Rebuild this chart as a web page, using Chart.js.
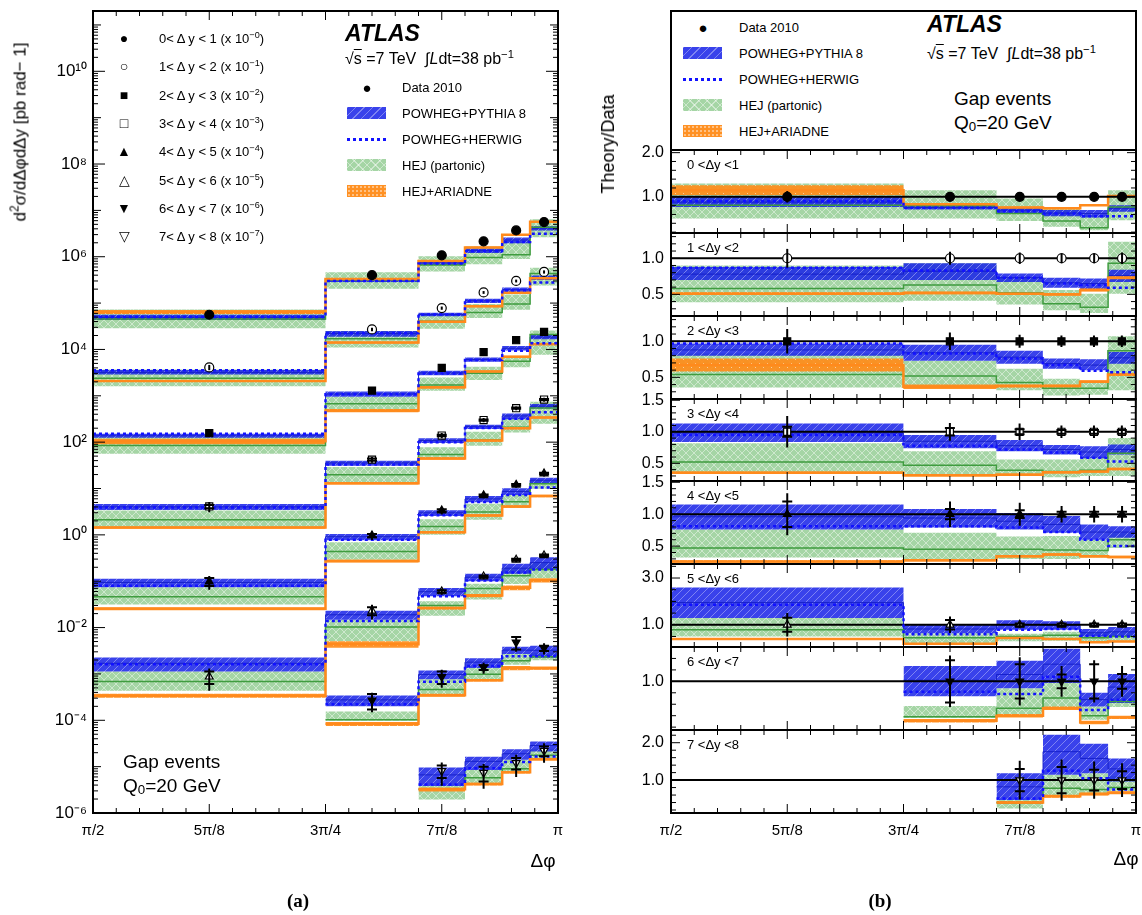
<!DOCTYPE html>
<html>
<head>
<meta charset="utf-8">
<script src="https://cdn.jsdelivr.net/npm/chart.js@4.4.0/dist/chart.umd.min.js"></script>
<style>
body { margin:0; background:#fff; width:1142px; height:915px; position:relative; overflow:hidden;
       font-family:"Liberation Sans", Arial, sans-serif; }
canvas { position:absolute; }
.t { position:absolute; white-space:nowrap; color:#000; line-height:1; transform:translateY(-50%); }
.sw { position:absolute; width:39px; height:12px; transform:translateY(-50%); }
sup { font-size:70%; vertical-align:0.55em; line-height:0; }
sub { font-size:70%; vertical-align:-0.2em; line-height:0; }
</style>
</head>
<body>
<canvas id="left" width="570" height="915" style="left:0;top:0"></canvas>
<div id="legbox" style="position:absolute;left:670px;top:10px;width:467px;height:141px;border:2px solid #000;box-sizing:border-box"></div>
<script>
// ---- data ----
// delta-phi bin edges, in units of pi
const edges = [0.5, 0.75, 0.85, 0.9, 0.94, 0.97, 1.0];
const xTicks = [0.5, 0.625, 0.75, 0.875, 1.0];
const xTickLabels = ['π/2', '5π/8', '3π/4', '7π/8', 'π'];

const sliceLabels = ['0 &lt;Δy &lt;1', '1 &lt;Δy &lt;2', '2 &lt;Δy &lt;3', '3 &lt;Δy &lt;4',
                     '4 &lt;Δy &lt;5', '5 &lt;Δy &lt;6', '6 &lt;Δy &lt;7', '7 &lt;Δy &lt;8'];
const sliceExp = [0, 1, 2, 3, 4, 5, 6, 7];   // plotted as x 10^-k

// cross sections d2sigma/dDphi dDy [pb/rad], unscaled
const xsec = [
  [5.6e4, 4.0e5, 1.07e6, 2.15e6, 3.7e6, 5.6e6],
  [4.1e4, 2.7e5, 7.8e5, 1.7e6, 3.0e6, 4.7e6],
  [1.56e4, 1.3e5, 4.0e5, 8.8e5, 1.58e6, 2.4e6],
  [4.1e3, 4.2e4, 1.39e5, 3.0e5, 5.4e5, 8.3e5],
  [980, 9.7e3, 3.35e4, 7.1e4, 1.2e5, 2.1e5],
  [87, 2.3e3, 6.0e3, 1.26e4, 2.9e4, 3.6e4],
  [null, 270, 870, 1380, 4800, 3600],
  [null, null, 81, 74, 120, 220]
];
// relative data uncertainties: total and statistical
const errTot = [
  [0.13, 0.05, 0.04, 0.04, 0.04, 0.04],
  [0.13, 0.09, 0.08, 0.07, 0.07, 0.08],
  [0.17, 0.12, 0.09, 0.08, 0.08, 0.08],
  [0.25, 0.14, 0.13, 0.10, 0.10, 0.10],
  [0.33, 0.20, 0.18, 0.13, 0.13, 0.13],
  [0.50, 0.35, 0.15, 0.12, 0.12, 0.12],
  [null, 0.45, 0.42, 0.27, 0.37, 0.27],
  [null, null, 0.52, 0.55, 0.50, 0.45]
];
const errStat = [
  [0, 0, 0, 0, 0, 0],
  [0, 0, 0, 0, 0, 0],
  [0, 0, 0, 0, 0, 0],
  [0.08, 0.06, 0.04, 0.03, 0.03, 0.03],
  [0.20, 0.08, 0.06, 0.04, 0.04, 0.04],
  [0.30, 0.20, 0.06, 0.05, 0.05, 0.05],
  [null, 0.37, 0.30, 0.12, 0.30, 0.13],
  [null, null, 0.30, 0.35, 0.28, 0.24]
];

// theory / data
const pyLo = [
  [0.77, 0.71, 0.62, 0.56, 0.53, 0.66],
  [0.70, 0.70, 0.67, 0.59, 0.57, 0.67],
  [0.80, 0.73, 0.69, 0.62, 0.60, 0.69],
  [0.84, 0.74, 0.69, 0.64, 0.58, 0.64],
  [0.76, 0.79, 0.76, 0.71, 0.60, 0.63],
  [1.29, 0.64, 0.79, 0.79, 0.50, 0.50],
  [null, 0.74, 0.88, 0.97, 0.56, 0.62],
  [null, null, 0.47, 1.14, 1.18, 0.96]
];
const pyHi = [
  [1.00, 0.81, 0.77, 0.70, 0.70, 0.81],
  [0.88, 0.93, 0.79, 0.73, 0.72, 0.84],
  [0.97, 0.95, 0.87, 0.76, 0.75, 0.85],
  [1.13, 0.95, 0.87, 0.79, 0.77, 0.80],
  [1.15, 1.08, 1.02, 0.97, 0.84, 0.81],
  [2.60, 1.00, 1.19, 1.15, 0.82, 0.91],
  [null, 1.27, 1.36, 1.57, 0.80, 1.13],
  [null, null, 1.18, 2.21, 1.97, 1.58]
];
const pyC = [
  [0.88, 0.76, 0.70, 0.63, 0.62, 0.74],
  [0.78, 0.82, 0.73, 0.66, 0.65, 0.76],
  [0.88, 0.84, 0.78, 0.69, 0.67, 0.77],
  [0.98, 0.85, 0.78, 0.72, 0.68, 0.72],
  [0.96, 0.94, 0.89, 0.84, 0.72, 0.72],
  [1.95, 0.82, 0.99, 0.97, 0.66, 0.70],
  [null, 1.02, 1.12, 1.30, 0.68, 0.90],
  [null, null, 0.82, 1.76, 1.58, 1.30]
];
const herwig = [
  [0.90, 0.75, 0.67, 0.62, 0.56, 0.56],
  [0.87, 0.83, 0.73, 0.65, 0.63, 0.59],
  [0.97, 0.83, 0.76, 0.67, 0.59, 0.57],
  [0.95, 0.78, 0.72, 0.67, 0.59, 0.53],
  [0.81, 0.81, 0.79, 0.72, 0.60, 0.50],
  [1.86, 0.60, 0.79, 0.82, 0.53, 0.50],
  [null, 0.82, 0.78, 1.08, 0.50, 0.68],
  [null, null, 0.51, 1.25, 1.05, 0.75]
];
const hejLo = [
  [0.51, 0.51, 0.45, 0.32, 0.24, 0.47],
  [0.39, 0.41, 0.36, 0.28, 0.24, 0.51],
  [0.36, 0.35, 0.32, 0.25, 0.26, 0.32],
  [0.35, 0.32, 0.32, 0.28, 0.30, 0.30],
  [0.32, 0.30, 0.30, 0.30, 0.32, 0.47],
  [0.50, 0.22, 0.30, 0.32, 0.30, 0.32],
  [null, 0.36, 0.40, 0.53, 0.33, 0.55],
  [null, null, 0.24, 0.56, 0.64, 0.70]
];
const hejC = [
  [0.81, 0.80, 0.62, 0.45, 0.30, 0.77],
  [0.58, 0.63, 0.52, 0.37, 0.32, 0.93],
  [0.54, 0.52, 0.43, 0.35, 0.35, 0.87],
  [0.52, 0.47, 0.39, 0.37, 0.39, 0.66],
  [0.47, 0.45, 0.45, 0.44, 0.43, 0.60],
  [0.79, 0.45, 0.50, 0.55, 0.45, 0.50],
  [null, 0.38, 0.53, 0.71, 0.40, 0.65],
  [null, null, 0.40, 0.78, 0.75, 0.80]
];
const hejHi = [
  [1.30, 1.15, 0.96, 0.77, 0.58, 1.15],
  [0.90, 0.93, 0.74, 0.56, 0.51, 1.23],
  [0.83, 0.73, 0.62, 0.48, 0.45, 1.07],
  [0.82, 0.69, 0.56, 0.56, 0.60, 0.90],
  [0.76, 0.71, 0.65, 0.66, 0.60, 0.71],
  [1.29, 0.64, 0.62, 0.70, 0.66, 0.70],
  [null, 0.57, 0.88, 0.97, 0.56, 0.80],
  [null, null, 0.47, 1.14, 1.18, 1.10]
];
const ariadne = [
  [1.15, 0.83, 0.76, 0.74, 0.81, 1.02],
  [0.51, 0.52, 0.51, 0.50, 0.56, 0.73],
  [0.67, 0.37, 0.38, 0.38, 0.44, 0.54],
  [0.35, 0.31, 0.32, 0.36, 0.37, 0.41],
  [0.26, 0.28, 0.34, 0.37, 0.34, 0.33],
  [0.39, 0.19, 0.44, 0.39, 0.25, 0.29],
  [null, 0.31, 0.40, 0.53, 0.28, 0.37],
  [null, null, 0.40, 0.57, 0.63, 0.66]
];
const ariadneErr = [
  [0.11, 0.02, 0.02, 0.02, 0.02, 0.02],
  [0.02, 0.02, 0.02, 0.02, 0.02, 0.02],
  [0.09, 0.03, 0.02, 0.02, 0.02, 0.02],
  [0.02, 0.02, 0.02, 0.02, 0.02, 0.02],
  [0.02, 0.02, 0.02, 0.02, 0.02, 0.02],
  [0.04, 0.03, 0.03, 0.03, 0.03, 0.03],
  [null, 0.03, 0.03, 0.03, 0.03, 0.03],
  [null, null, 0.04, 0.04, 0.04, 0.04]
];

// ratio panel axes
const ratioRange = [[0.18, 2.06], [0.2, 1.35], [0.2, 1.35], [0.22, 1.52], [0.22, 1.52], [0.05, 3.6], [0.15, 1.6], [0.12, 2.34]];
const ratioTicks = [[1.0, 2.0], [0.5, 1.0], [0.5, 1.0], [0.5, 1.0, 1.5], [0.5, 1.0, 1.5], [1.0, 3.0], [1.0], [1.0, 2.0]];
const ratioMinor = [0.2, 0.1, 0.1, 0.1, 0.1, 0.5, 0.2, 0.2];

// ---- styling ----
const PI = Math.PI;
const FONT = '"Liberation Sans", Arial, sans-serif';
Chart.defaults.font.family = FONT;
Chart.defaults.color = '#000';

const markerStyle = [['circle', 0, true], ['circle', 0, false], ['rect', 0, true], ['rect', 0, false],
                     ['triangle', 0, true], ['triangle', 0, false], ['triangle', 180, true], ['triangle', 180, false]];
const markerGlyph = ['●', '○', '■', '□', '▲', '△', '▼', '▽'];

function makePattern(kind) {
  const n = 8, c = document.createElement('canvas');
  c.width = c.height = n;
  const g = c.getContext('2d');
  if (kind == 'blue') {
    g.fillStyle = 'rgba(25,35,232,0.86)';
    g.fillRect(0, 0, n, n);
    g.strokeStyle = 'rgba(255,255,255,0.35)';
    g.beginPath();
    g.moveTo(0, n); g.lineTo(n, 0);
    g.moveTo(-2, 2); g.lineTo(2, -2);
    g.moveTo(n - 2, n + 2); g.lineTo(n + 2, n - 2);
    g.stroke();
  } else if (kind == 'green') {
    g.fillStyle = 'rgba(105,185,105,0.6)';
    g.fillRect(0, 0, n, n);
    g.strokeStyle = 'rgba(255,255,255,0.45)';
    g.beginPath();
    g.moveTo(0, n); g.lineTo(n, 0);
    g.moveTo(0, 0); g.lineTo(n, n);
    g.stroke();
  } else {
    g.fillStyle = 'rgba(255,140,25,0.92)';
    g.fillRect(0, 0, n, n);
    g.fillStyle = 'rgba(255,255,255,0.55)';
    g.fillRect(1, 1, 1, 1);
    g.fillRect(5, 5, 1, 1);
  }
  return g.createPattern(c, 'repeat');
}
const blueFill = makePattern('blue');
const greenFill = makePattern('green');
const orangeFill = makePattern('orange');

function binCenter(i) { return (edges[i] + edges[i + 1]) / 2 * PI; }

// histogram points for a stepped line (horizontal first)
function steps(vals) {
  const pts = [];
  let last = -1;
  vals.forEach((v, i) => {
    if (v == null) return;
    pts.push({ x: edges[i] * PI, y: v });
    last = i;
  });
  pts.push({ x: edges[last + 1] * PI, y: vals[last] });
  return pts;
}

// theory datasets for one slice; f turns a ratio into the plotted value
function theorySets(list, k, f) {
  const m = (arr) => arr[k].map((r, i) => r == null ? null : f(r, i));
  const line = (vals, color, width, order, dash) => list.push({
    data: steps(vals), stepped: 'before', borderColor: color, borderWidth: width,
    borderDash: dash || [], pointRadius: 0, fill: false, order: order
  });
  const band = (lo, hi, fillStyle, order) => {
    list.push({ data: steps(lo), stepped: 'before', borderWidth: 0, pointRadius: 0, fill: false, order: order });
    list.push({ data: steps(hi), stepped: 'before', borderWidth: 0, pointRadius: 0, fill: '-1',
                backgroundColor: fillStyle, order: order });
  };
  band(m(hejLo), m(hejHi), greenFill, 60);
  band(m(pyLo), m(pyHi), blueFill, 50);
  const aLo = ariadne[k].map((r, i) => r == null ? null : f(r - ariadneErr[k][i], i));
  const aHi = ariadne[k].map((r, i) => r == null ? null : f(r + ariadneErr[k][i], i));
  band(aLo, aHi, orangeFill, 40);
  line(m(pyC), 'rgba(20,30,200,0.9)', 1, 35);
  line(m(hejC), '#3f9c3f', 1.5, 30);
  line(m(ariadne), '#ff8a1c', 2.5, 25);
  line(m(herwig), '#1212ff', 2.5, 20, [3, 3]);
}

function dataSet(k, f) {
  const pts = [], errs = [];
  xsec[k].forEach((v, i) => {
    if (v == null) return;
    const t = errTot[k][i], s = errStat[k][i];
    pts.push({ x: binCenter(i), y: f(1, i) });
    errs.push([f(1 - t, i), f(1 + t, i), s ? f(1 - s, i) : null, s ? f(1 + s, i) : null]);
  });
  const st = markerStyle[k];
  return {
    data: pts, errs: errs, showLine: false, pointStyle: st[0], rotation: st[1],
    pointRadius: st[0] == 'rect' ? 5 : 4.5, pointBackgroundColor: st[2] ? '#000' : '#fff',
    pointBorderColor: '#000', pointBorderWidth: 1.2, order: 5
  };
}

const errPlugin = {
  id: 'errbars',
  afterDatasetsDraw(chart) {
    const { ctx, chartArea: a } = chart;
    const xs = chart.scales.x, ys = chart.scales.y;
    ctx.save();
    ctx.beginPath();
    ctx.rect(a.left, a.top, a.right - a.left, a.bottom - a.top);
    ctx.clip();
    ctx.strokeStyle = '#000';
    ctx.lineWidth = 2;
    chart.data.datasets.forEach(ds => {
      if (!ds.errs) return;
      ds.data.forEach((p, j) => {
        const e = ds.errs[j], x = xs.getPixelForValue(p.x);
        ctx.beginPath();
        ctx.moveTo(x, ys.getPixelForValue(e[0]));
        ctx.lineTo(x, ys.getPixelForValue(e[1]));
        [e[2], e[3]].forEach(c => {
          if (c == null) return;
          const y = ys.getPixelForValue(c);
          ctx.moveTo(x - 5, y);
          ctx.lineTo(x + 5, y);
        });
        ctx.stroke();
      });
    });
    ctx.restore();
  }
};

// frame with inward ticks
const framePlugin = {
  id: 'frame',
  afterDraw(chart, args, opt) {
    const { ctx, chartArea: a } = chart;
    const xs = chart.scales.x, ys = chart.scales.y;
    ctx.save();
    ctx.strokeStyle = '#000';
    ctx.lineWidth = 1;
    ctx.beginPath();
    for (let j = 0; j <= 20; j++) {
      const px = xs.getPixelForValue((0.5 + j / 40) * PI);
      const len = j % 5 == 0 ? 9 : 5;
      ctx.moveTo(px, a.bottom); ctx.lineTo(px, a.bottom - len);
      ctx.moveTo(px, a.top); ctx.lineTo(px, a.top + len);
    }
    opt.yt.forEach(([v, len]) => {
      const py = ys.getPixelForValue(v);
      if (py < a.top - 0.5 || py > a.bottom + 0.5) return;
      ctx.moveTo(a.left, py); ctx.lineTo(a.left + len, py);
      ctx.moveTo(a.right, py); ctx.lineTo(a.right - len, py);
    });
    ctx.stroke();
    ctx.lineWidth = 2;
    ctx.strokeRect(a.left, a.top, a.right - a.left, a.bottom - a.top);
    ctx.restore();
  }
};

const supMap = { '-': '⁻', '0': '⁰', '1': '¹', '2': '²', '3': '³', '4': '⁴', '5': '⁵', '6': '⁶', '7': '⁷', '8': '⁸', '9': '⁹' };
function supText(n) { return String(n).split('').map(c => supMap[c]).join(''); }

function xScale(show) {
  return {
    type: 'linear', min: 0.5 * PI, max: PI, display: show,
    grid: { display: false, drawTicks: false }, border: { display: false },
    afterBuildTicks: s => { s.ticks = xTicks.map(v => ({ value: v * PI })); },
    ticks: { callback: (v, i) => xTickLabels[i], font: { size: 15 }, padding: 9, maxRotation: 0, autoSkip: false },
    afterFit: s => { s.height = show ? 102 : 0; s.paddingLeft = 0; s.paddingRight = 0; }
  };
}

// ---- left panel: cross sections ----
const leftSets = [];
for (let k = 0; k < 8; k++) {
  const f = (r, i) => r * xsec[k][i] * Math.pow(10, -sliceExp[k]);
  theorySets(leftSets, k, f);
  leftSets.push(dataSet(k, f));
}
const logTicks = [], logLabels = [];
for (let e = -6; e <= 11; e++) {
  logTicks.push([Math.pow(10, e), e % 2 == 0 ? 12 : 8]);
  if (e % 2 == 0 && e <= 10) logLabels.push(Math.pow(10, e));
  for (let m = 2; m <= 9; m++) logTicks.push([m * Math.pow(10, e), 5]);
}

new Chart(document.getElementById('left'), {
  type: 'line',
  data: { datasets: leftSets },
  options: {
    responsive: false, animation: false, events: [],
    layout: { padding: { top: 11, right: 12, left: 0, bottom: 0 } },
    plugins: { legend: { display: false }, tooltip: { enabled: false }, frame: { yt: logTicks } },
    scales: {
      x: xScale(true),
      y: {
        type: 'logarithmic', min: 1e-6, max: 2e11,
        grid: { display: false, drawTicks: false }, border: { display: false },
        afterBuildTicks: s => { s.ticks = logLabels.map(v => ({ value: v })); },
        ticks: { callback: v => '10' + supText(Math.round(Math.log10(v))), font: { size: 17 }, padding: 6 },
        afterFit: s => { s.width = 93; s.paddingTop = 0; s.paddingBottom = 0; }
      }
    }
  },
  plugins: [errPlugin, framePlugin]
});

// ---- right panel: theory / data ----
const rTop = [150, 233, 316, 399, 481, 564, 647, 730, 813];
for (let k = 0; k < 8; k++) {
  const last = k == 7;
  const cv = document.createElement('canvas');
  const h = rTop[k + 1] - rTop[k] + 10 + (last ? 102 : 10);
  cv.width = 552; cv.height = h;
  cv.style.left = '590px'; cv.style.top = (rTop[k] - 10) + 'px';
  document.body.appendChild(cv);

  const sets = [];
  theorySets(sets, k, r => r);
  sets.push({ data: [{ x: 0.5 * PI, y: 1 }, { x: PI, y: 1 }], borderColor: '#000', borderWidth: 2,
              pointRadius: 0, fill: false, order: 22 });
  sets.push(dataSet(k, r => r));

  const [lo, hi] = ratioRange[k];
  const yt = [];
  for (let v = Math.ceil(lo / ratioMinor[k] - 1e-6) * ratioMinor[k]; v <= hi + 1e-6; v += ratioMinor[k]) {
    const major = ratioTicks[k].some(t => Math.abs(t - v) < 1e-6);
    yt.push([v, major ? 9 : 5]);
  }

  new Chart(cv, {
    type: 'line',
    data: { datasets: sets },
    options: {
      responsive: false, animation: false, events: [],
      layout: { padding: { top: 10, right: 6, left: 0, bottom: last ? 0 : 10 } },
      plugins: { legend: { display: false }, tooltip: { enabled: false }, frame: { yt: yt } },
      scales: {
        x: xScale(last),
        y: {
          type: 'linear', min: lo, max: hi,
          grid: { display: false, drawTicks: false }, border: { display: false },
          afterBuildTicks: s => { s.ticks = ratioTicks[k].map(v => ({ value: v })); },
          ticks: { callback: v => v.toFixed(1), font: { size: 16 }, padding: 7 },
          afterFit: s => { s.width = 81; s.paddingTop = 0; s.paddingBottom = 0; }
        }
      }
    },
    plugins: [errPlugin, framePlugin]
  });
}

// ---- text, legends ----
function txt(html, left, cy, css) {
  const d = document.createElement('div');
  d.className = 't';
  d.innerHTML = html;
  d.style.left = left + 'px';
  d.style.top = cy + 'px';
  if (css) d.style.cssText += css;
  document.body.appendChild(d);
  return d;
}
function swatch(left, cy, bg) {
  const d = document.createElement('div');
  d.className = 'sw';
  d.style.left = left + 'px';
  d.style.top = cy + 'px';
  d.style.background = bg;
  document.body.appendChild(d);
}
const cssBlue = 'repeating-linear-gradient(135deg, rgba(255,255,255,0.35) 0 1px, transparent 1px 6px), rgba(25,35,232,0.86)';
const cssGreen = 'repeating-linear-gradient(135deg, rgba(255,255,255,0.45) 0 1px, transparent 1px 6px), repeating-linear-gradient(45deg, rgba(255,255,255,0.45) 0 1px, transparent 1px 6px), rgb(165,213,165)';
const cssOrange = 'radial-gradient(rgba(255,255,255,0.6) 0.6px, transparent 1px) 0 0/4px 4px, rgb(255,145,35)';
const modelNames = ['POWHEG+PYTHIA 8', 'POWHEG+HERWIG', 'HEJ (partonic)', 'HEJ+ARIADNE'];

function legend(mx, sx, tx, y0, dy) {
  txt('●', mx, y0, 'font-size:15px;transform:translate(-50%,-50%)');
  txt('Data 2010', tx, y0, 'font-size:13px');
  swatch(sx, y0 + dy, cssBlue);
  txt(modelNames[0], tx, y0 + dy, 'font-size:13px');
  const d = document.createElement('div');
  d.style.cssText = 'position:absolute;width:39px;height:0;border-top:3px dotted #1212ff;left:' + sx + 'px;top:' + (y0 + 2 * dy - 1) + 'px';
  document.body.appendChild(d);
  txt(modelNames[1], tx, y0 + 2 * dy, 'font-size:13px');
  swatch(sx, y0 + 3 * dy, cssGreen);
  txt(modelNames[2], tx, y0 + 3 * dy, 'font-size:13px');
  swatch(sx, y0 + 4 * dy, cssOrange);
  txt(modelNames[3], tx, y0 + 4 * dy, 'font-size:13px');
}

const energy = '√<span style="text-decoration:overline">s</span> =7 TeV &nbsp;∫<i>L</i>dt=38 pb<sup>−1</sup>';

// left panel
for (let k = 0; k < 8; k++) {
  const cy = 38 + k * 28.3;
  txt(markerGlyph[k], 124, cy, 'font-size:14px;transform:translate(-50%,-50%)');
  const lab = sliceLabels[k].replace(/ &lt;Δy &lt;/, '&lt; Δ y &lt; ').replace(/^(\d) /, '$1');
  txt(lab + ' (x 10<sup>−' + sliceExp[k] + '</sup>)', 159, cy, 'font-size:13px');
}
txt('ATLAS', 345, 33, 'font-size:23px;font-weight:bold;font-style:italic');
txt(energy, 345, 59, 'font-size:16px');
legend(367, 347, 402, 87, 26);
txt('Gap events', 123, 761, 'font-size:19px');
txt('Q<sub>0</sub>=20 GeV', 123, 785, 'font-size:19px');
txt('d<sup>2</sup>σ/dΔφdΔy [pb rad− 1]', 20, 132, 'font-size:17px;transform:translate(-50%,-50%) rotate(-90deg)');
txt('Δφ', 543, 860, 'font-size:19px;transform:translate(-50%,-50%)');
txt('(a)', 298, 900, 'font-size:19px;font-weight:bold;font-family:"Liberation Serif",serif;transform:translate(-50%,-50%)');

// right panel
legend(703, 683, 739, 27, 26);
txt('ATLAS', 927, 24, 'font-size:23px;font-weight:bold;font-style:italic');
txt(energy, 927, 54, 'font-size:16px');
txt('Gap events', 954, 98, 'font-size:19px');
txt('Q<sub>0</sub>=20 GeV', 954, 122, 'font-size:19px');
txt('Theory/Data', 608, 144, 'font-size:18px;transform:translate(-50%,-50%) rotate(-90deg)');
for (let k = 0; k < 8; k++) txt(sliceLabels[k], 687, rTop[k] + 14, 'font-size:13px');
txt('Δφ', 1126, 858, 'font-size:19px;transform:translate(-50%,-50%)');
txt('(b)', 880, 900, 'font-size:19px;font-weight:bold;font-family:"Liberation Serif",serif;transform:translate(-50%,-50%)');
</script>
</body>
</html>
